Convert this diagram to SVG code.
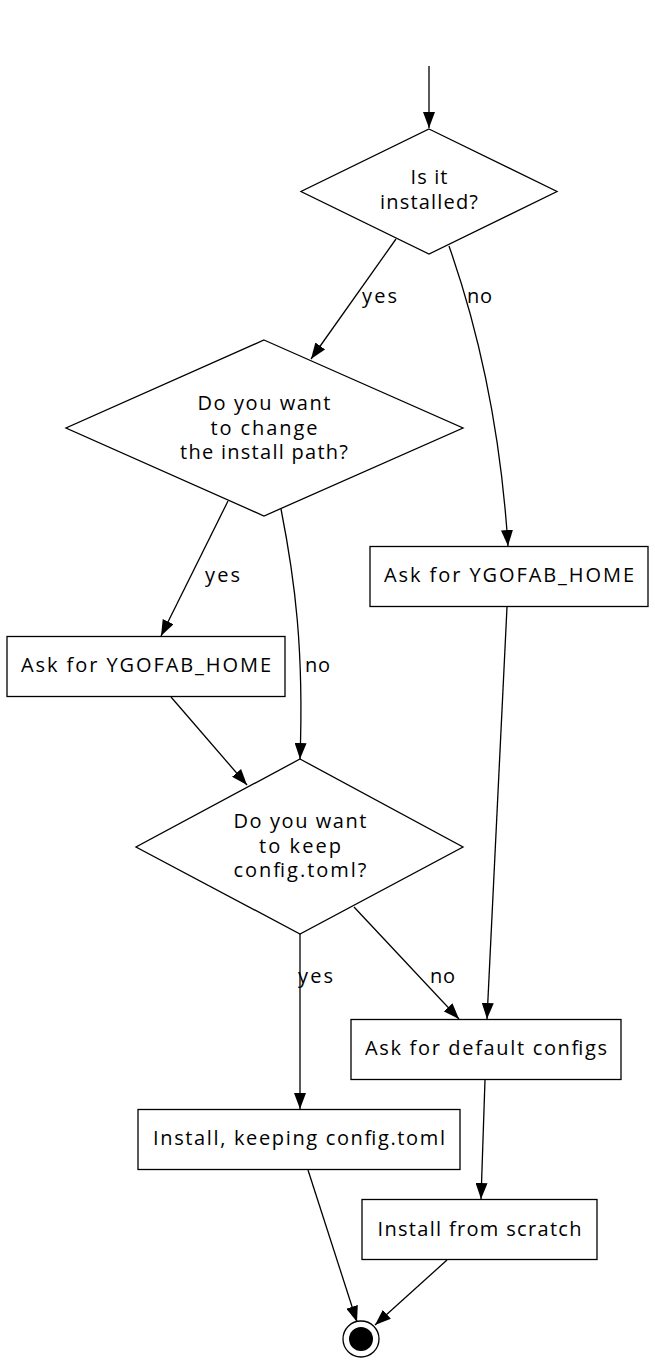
<svg xmlns="http://www.w3.org/2000/svg" width="655" height="1365" viewBox="0 0 655 1365">
<style>
.n{fill:#fff;stroke:#000;stroke-width:1.3}
.t{font-family:"Open Sans","DejaVu Sans",sans-serif;font-size:20px;fill:#000;text-anchor:middle}
.l{font-family:"Open Sans","DejaVu Sans",sans-serif;font-size:20px;fill:#000}
.e{fill:none;stroke:#000;stroke-width:1.3;marker-end:url(#ah)}
</style>
<defs>
<marker id="ah" markerUnits="userSpaceOnUse" markerWidth="16" markerHeight="12" refX="16" refY="6" orient="auto">
<path d="M0,0 L16,6 L0,12 z" fill="#000"/>
</marker>
</defs>
<rect width="655" height="1365" fill="#fff"/>
<g id="edges">
<path class="e" d="M429,66 L429,128"/>
<path class="e" d="M396,239 L311,359"/>
<text class="l" x="362" y="303" textLength="35">yes</text>
<path class="e" d="M449,246 C475,320 500,420 508,546"/>
<text class="l" x="467" y="303" textLength="25">no</text>
<path class="e" d="M228,501 L161,636"/>
<text class="l" x="205" y="582" textLength="35">yes</text>
<path class="e" d="M281,509 C295,580 304,650 300,759"/>
<text class="l" x="305" y="672" textLength="25">no</text>
<path class="e" d="M171,697 L247,785"/>
<path class="e" d="M300,934 L300,1109"/>
<text class="l" x="298" y="983" textLength="35">yes</text>
<path class="e" d="M354,907 L459,1019"/>
<text class="l" x="430" y="983" textLength="25">no</text>
<path class="e" d="M507,607 L487,1019"/>
<path class="e" d="M485,1080 L481,1199"/>
<path class="e" d="M308,1170 L357,1322"/>
<path class="e" d="M447,1260 L375,1325"/>
</g>
<g id="installed">
<polygon class="n" points="429,129 557,191.5 429,254 301,191.5"/>
<text class="t" x="429" y="184" textLength="37">Is it</text>
<text class="t" x="429" y="209" textLength="98">installed?</text>
</g>
<g id="changePath">
<polygon class="n" points="264,340 463,428 264,516 66,428"/>
<text class="t" x="264" y="410" textLength="133">Do you want</text>
<text class="t" x="264" y="434.5" textLength="107">to change</text>
<text class="t" x="264" y="459" textLength="168">the install path?</text>
</g>
<g id="askHomeRight">
<rect class="n" x="370" y="546.5" width="278" height="60"/>
<text class="t" x="509" y="582" textLength="250">Ask for YGOFAB_HOME</text>
</g>
<g id="askHomeLeft">
<rect class="n" x="7" y="636.5" width="278" height="60"/>
<text class="t" x="146" y="672" textLength="250">Ask for YGOFAB_HOME</text>
</g>
<g id="keepConfig">
<polygon class="n" points="300,759 463,847 300,934 136,847"/>
<text class="t" x="300" y="828" textLength="133">Do you want</text>
<text class="t" x="300" y="852.5" textLength="82">to keep</text>
<text class="t" x="300" y="877" textLength="133">config.toml?</text>
</g>
<g id="defaultConfigs">
<rect class="n" x="351" y="1019.5" width="270" height="60"/>
<text class="t" x="486" y="1055" textLength="242">Ask for default configs</text>
</g>
<g id="installKeep">
<rect class="n" x="138" y="1109.5" width="322" height="60"/>
<text class="t" x="299" y="1145" textLength="292">Install, keeping config.toml</text>
</g>
<g id="installScratch">
<rect class="n" x="362" y="1199.5" width="235" height="60"/>
<text class="t" x="479.5" y="1236" textLength="204">Install from scratch</text>
</g>
<g id="end">
<circle cx="361" cy="1339" r="18" fill="#fff" stroke="#000" stroke-width="1.3"/>
<circle cx="361" cy="1339" r="12" fill="#000"/>
</g>
</svg>
